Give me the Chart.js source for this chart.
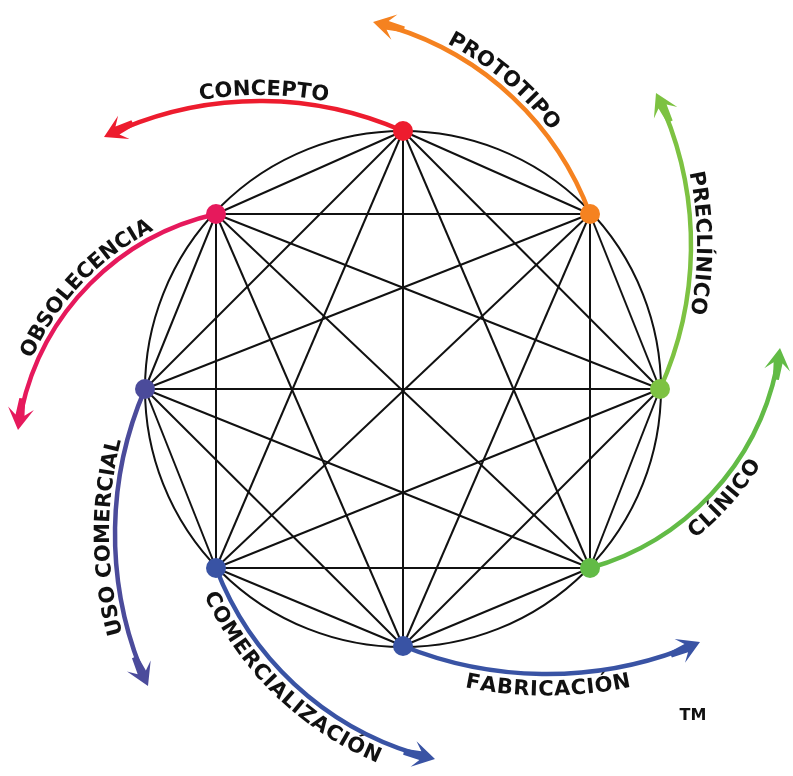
<!DOCTYPE html>
<html>
<head>
<meta charset="utf-8">
<script src="https://cdn.jsdelivr.net/npm/chart.js@4.4.0/dist/chart.umd.min.js"></script>
<style>
  html, body { margin: 0; padding: 0; background: #fff; overflow: hidden; }
  canvas { display: block; }
</style>
</head>
<body>
<canvas id="chart" width="793" height="776"></canvas>
<script>
// stage nodes on the big circle (centre 0,0, y up)
const nodeX = [0, 187, 257, 187, 0, -187, -258, -187];
const nodeY = [258, 175, 0, -179, -257, -179, 0, 175];
const nodeColors = ['#ed1c2e', '#f58220', '#7dc242', '#62bb46', '#3953a4', '#3953a4', '#4b4b9b', '#e6195c'];
const circleRadius = 258;

// one curved arrow per stage, starting at its node
const stageLabels = ['CONCEPTO', 'PROTOTIPO', 'PRECLÍNICO', 'CLÍNICO', 'FABRICACIÓN', 'COMERCIALIZACIÓN', 'USO COMERCIAL', 'OBSOLECENCIA'];
const arcMidX = [-139, 97, 288, 312, 145, -113, -288, -317];
const arcMidY = [288, 303, 146, -101, -285, -291, -148, 101];
const arcEndX = [-299, -30, 253, 377, 297, 32, -255, -385];
const arcEndY = [252, 367, 296, 41, -253, -370, -297, -41];
const labelInward = [false, false, false, true, true, true, false, false];

const trademark = 'TM';
const trademarkX = 290;
const trademarkY = -327;

const FONT = 'bold 21px "DejaVu Sans"';
const CAP = 15.5;

function norm(a) {
  const t = Math.PI * 2;
  return ((a % t) + t) % t;
}

function circleFrom3(a, b, c) {
  const d = 2 * (a.x * (b.y - c.y) + b.x * (c.y - a.y) + c.x * (a.y - b.y));
  const a2 = a.x * a.x + a.y * a.y, b2 = b.x * b.x + b.y * b.y, c2 = c.x * c.x + c.y * c.y;
  const ux = (a2 * (b.y - c.y) + b2 * (c.y - a.y) + c2 * (a.y - b.y)) / d;
  const uy = (a2 * (c.x - b.x) + b2 * (a.x - c.x) + c2 * (b.x - a.x)) / d;
  return { x: ux, y: uy, r: Math.hypot(a.x - ux, a.y - uy) };
}

function drawArcText(ctx, text, cx, cy, R, theta, inward) {
  ctx.font = FONT;
  const spacing = 0.4;
  const gap = 6;
  const chars = [...text];
  const rMid = R + gap + CAP / 2;
  const widths = chars.map(ch => ctx.measureText(ch).width + spacing);
  const total = widths.reduce((s, w) => s + w, 0) - spacing;
  const dir = inward ? -1 : 1;
  const rBase = inward ? R + gap + CAP : R + gap;
  let phi = theta - dir * total / 2 / rMid;
  chars.forEach((ch, i) => {
    const a = phi + dir * (widths[i] - spacing) / 2 / rMid;
    ctx.save();
    ctx.translate(cx + rBase * Math.cos(a), cy + rBase * Math.sin(a));
    ctx.rotate(a + dir * Math.PI / 2);
    ctx.textAlign = 'center';
    ctx.textBaseline = 'alphabetic';
    ctx.fillStyle = '#111';
    ctx.fillText(ch, 0, 0);
    ctx.restore();
    phi += dir * widths[i] / rMid;
  });
}

function drawArrowHead(ctx, tip, d, color) {
  const p = { x: -d.y, y: d.x };
  const pt = (back, side) => [tip.x - back * d.x + side * p.x, tip.y - back * d.y + side * p.y];
  const pts = [pt(0, 0), pt(22, 13), pt(15, 4.5), pt(32, 3), pt(32, -3), pt(15, -4.5), pt(22, -13)];
  ctx.beginPath();
  pts.forEach((q, i) => i ? ctx.lineTo(q[0], q[1]) : ctx.moveTo(q[0], q[1]));
  ctx.closePath();
  ctx.fillStyle = color;
  ctx.fill();
}

const diagramPlugin = {
  id: 'diagram',
  beforeDatasetsDraw(chart) {
    const ctx = chart.ctx;
    const xs = chart.scales.x, ys = chart.scales.y;
    const px = (x, y) => ({ x: xs.getPixelForValue(x), y: ys.getPixelForValue(y) });

    // big circle
    const c0 = px(0, 0);
    const r0 = xs.getPixelForValue(circleRadius) - c0.x;
    ctx.save();
    ctx.beginPath();
    ctx.arc(c0.x, c0.y, r0, 0, Math.PI * 2);
    ctx.strokeStyle = '#111';
    ctx.lineWidth = 2;
    ctx.stroke();

    // curved arrows with their labels
    stageLabels.forEach((label, i) => {
      const s = px(nodeX[i], nodeY[i]);
      const m = px(arcMidX[i], arcMidY[i]);
      const e = px(arcEndX[i], arcEndY[i]);
      const c = circleFrom3(s, m, e);
      const ts = Math.atan2(s.y - c.y, s.x - c.x);
      const tm = Math.atan2(m.y - c.y, m.x - c.x);
      const te = Math.atan2(e.y - c.y, e.x - c.x);
      const anti = !(norm(tm - ts) < norm(te - ts));
      const back = 20 / c.r;
      const te2 = anti ? te + back : te - back;
      const color = nodeColors[i];

      ctx.beginPath();
      ctx.arc(c.x, c.y, c.r, ts, te2, anti);
      ctx.strokeStyle = color;
      ctx.lineWidth = 4.5;
      ctx.stroke();

      const d = anti ? { x: Math.sin(te), y: -Math.cos(te) } : { x: -Math.sin(te), y: Math.cos(te) };
      drawArrowHead(ctx, e, d, color);

      drawArcText(ctx, label, c.x, c.y, c.r, tm, labelInward[i]);
    });
    ctx.restore();
  },
  afterDraw(chart) {
    const ctx = chart.ctx;
    const x = chart.scales.x.getPixelForValue(trademarkX);
    const y = chart.scales.y.getPixelForValue(trademarkY);
    ctx.save();
    ctx.font = 'bold 16px "DejaVu Sans"';
    ctx.fillStyle = '#111';
    ctx.textAlign = 'center';
    ctx.textBaseline = 'middle';
    ctx.fillText(trademark, x, y);
    ctx.restore();
  }
};

// every node joined to every other node
const edgeSets = [];
for (let i = 0; i < nodeX.length; i++) {
  for (let j = i + 1; j < nodeX.length; j++) {
    edgeSets.push({
      data: [{ x: nodeX[i], y: nodeY[i] }, { x: nodeX[j], y: nodeY[j] }],
      showLine: true,
      borderColor: '#111',
      borderWidth: 2,
      pointRadius: 0,
      order: 1
    });
  }
}

const nodeSet = {
  data: nodeX.map((x, i) => ({ x, y: nodeY[i] })),
  showLine: false,
  pointRadius: 10,
  pointBorderWidth: 0,
  pointBackgroundColor: nodeColors,
  order: 0
};

new Chart(document.getElementById('chart'), {
  type: 'scatter',
  data: { datasets: [nodeSet, ...edgeSets] },
  options: {
    responsive: false,
    animation: false,
    events: [],
    layout: { padding: 0, autoPadding: false },
    plugins: { legend: { display: false }, tooltip: { enabled: false } },
    scales: {
      x: { type: 'linear', min: -403, max: 390, display: false },
      y: { type: 'linear', min: -387, max: 389, display: false }
    }
  },
  plugins: [diagramPlugin]
});
</script>
</body>
</html>
